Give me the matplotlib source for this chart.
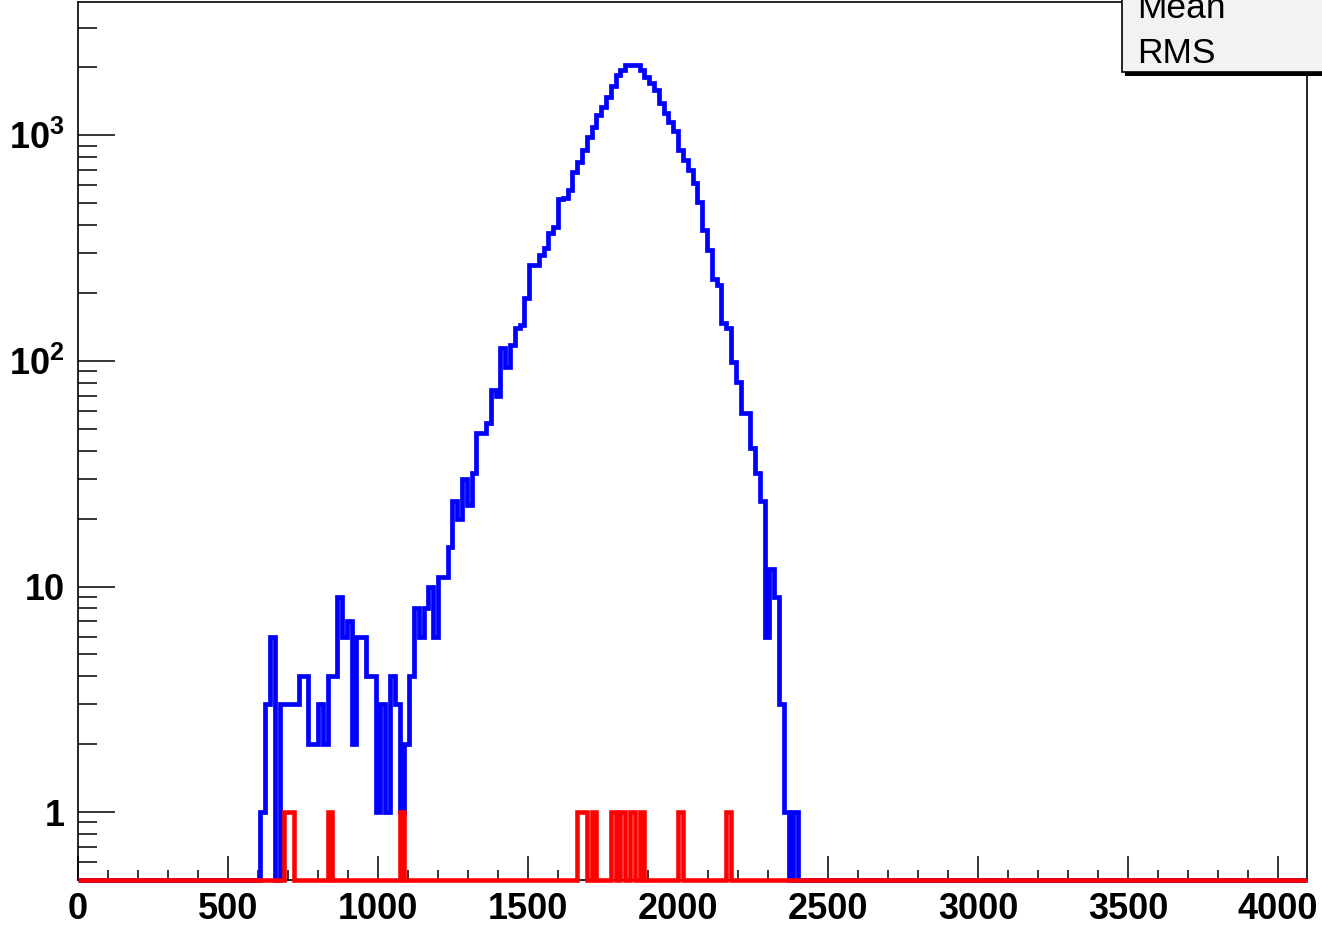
import numpy as np
import matplotlib
matplotlib.use("Agg")
import matplotlib.pyplot as plt
from matplotlib.patches import Rectangle
from matplotlib.ticker import FixedLocator, FixedFormatter, MultipleLocator, LogLocator, NullFormatter

W, H = 1322, 926

# channel binning: 256 channels of width 16 over 0..4096
N_BINS = 256
X_MAX = 4096
Y_MIN, Y_MAX = 0.5, 3900

# blue spectrum, contiguous counts starting at channel 38
blue_first_bin = 38
blue_counts = [
    1, 3, 6, 0, 3, 3, 3, 3, 4, 4,
    2, 2, 3, 2, 4, 4, 9, 6, 7, 2,
    6, 6, 4, 4, 1, 3, 1, 4, 3, 1,
    2, 4, 8, 6, 8, 10, 6, 11, 11, 15,
    24, 20, 30, 23, 32, 48, 48, 53, 74, 70,
    114, 94, 118, 140, 145, 190, 266, 266, 295, 317,
    370, 392, 520, 530, 570, 690, 760, 860, 980, 1090,
    1230, 1340, 1480, 1650, 1850, 1950, 2050, 2060, 2050, 1950,
    1820, 1700, 1590, 1390, 1260, 1140, 1040, 860, 780, 700,
    615, 505, 380, 310, 230, 218, 148, 140, 99, 81,
    59, 59, 41, 32, 24, 6, 12, 9, 3, 1,
    0, 1,
]

# red spectrum: channels holding entries
red_bins = [43, 44, 52, 67, 104, 105, 107, 111, 113, 115, 117, 125, 135]
red_counts = [1, 1, 1, 1, 1, 1, 1, 1, 1, 1, 1, 1, 1]

x_ticks = [0, 500, 1000, 1500, 2000, 2500, 3000, 3500, 4000]
y_ticks = [1, 10, 100, 1000]
y_tick_labels = ["1", "10", r"$\mathbf{10^{2}}$", r"$\mathbf{10^{3}}$"]
stats_labels = ["Mean", "RMS"]

plt.rcParams["font.family"] = ["Liberation Sans", "DejaVu Sans"]
plt.rcParams["mathtext.fontset"] = "custom"
plt.rcParams["mathtext.rm"] = "Liberation Sans:bold"
plt.rcParams["mathtext.bf"] = "Liberation Sans:bold"


def floor_empty(h):
    # empty channels sit on the bottom of the log frame
    return np.where(h > 0, h, Y_MIN)


edges = np.linspace(0, X_MAX, N_BINS + 1)
blue = np.zeros(N_BINS)
blue[blue_first_bin:blue_first_bin + len(blue_counts)] = blue_counts
red = np.zeros(N_BINS)
red[red_bins] = red_counts

fig = plt.figure(figsize=(W / 100, H / 100), dpi=100)
fig.patch.set_facecolor("white")
ax = fig.add_axes([78 / W, (H - 880) / H, (1307 - 78) / W, (880 - 2) / H])

ax.stairs(floor_empty(blue), edges, baseline=None, color=(0, 0, 1),
          lw=3.4, joinstyle="miter", capstyle="butt", clip_on=False, zorder=3)
ax.stairs(floor_empty(red), edges, baseline=None, color=(1, 0, 0),
          lw=3.3, joinstyle="miter", capstyle="butt", clip_on=False, zorder=4)

ax.set_yscale("log")
ax.set_xlim(0, X_MAX)
ax.set_ylim(Y_MIN, Y_MAX)

ax.xaxis.set_major_locator(FixedLocator(x_ticks))
ax.xaxis.set_minor_locator(MultipleLocator(100))
ax.yaxis.set_major_locator(FixedLocator(y_ticks))
ax.yaxis.set_major_formatter(FixedFormatter(y_tick_labels))
ax.yaxis.set_minor_locator(LogLocator(base=10, subs=np.arange(2, 10)))
ax.yaxis.set_minor_formatter(NullFormatter())

ax.tick_params(axis="both", which="both", direction="in", color="black",
               width=1.1, top=False, right=False)
ax.tick_params(axis="y", which="major", length=26.5, pad=9.5, labelsize=26)
ax.tick_params(axis="y", which="minor", length=13.5)
ax.tick_params(axis="x", which="major", length=17, pad=8.5, labelsize=26)
ax.tick_params(axis="x", which="minor", length=7.5)
for lab in ax.get_xticklabels() + ax.get_yticklabels():
    lab.set_fontweight("bold")

for sp in ax.spines.values():
    sp.set_color("black")
    sp.set_linewidth(1.2)

# stats box in the top-right corner, partly off the canvas
shadow = Rectangle((1125 / W, (H - 76) / H), 0.2, 0.2, transform=fig.transFigure,
                   facecolor="black", edgecolor="none", zorder=10)
box = Rectangle((1122 / W, (H - 72) / H), 0.2, 0.2, transform=fig.transFigure,
                facecolor="#f2f2f2", edgecolor="black", lw=1.2, zorder=11)
fig.add_artist(shadow)
fig.add_artist(box)
for label, base in zip(stats_labels, [18, 63]):
    fig.text(1137 / W, (H - base) / H, label, fontsize=25.5, va="baseline",
             ha="left", color="black", zorder=12)

fig.savefig("out.png", dpi=100)
